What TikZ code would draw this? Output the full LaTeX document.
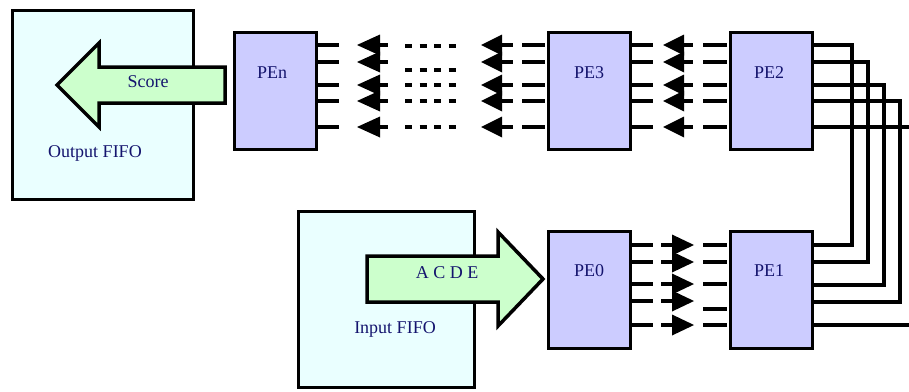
\documentclass[tikz,border=0pt]{standalone}
\usepackage{fontspec}
\setmainfont{Liberation Serif}
\definecolor{fifofill}{RGB}{234,255,255}
\definecolor{pefill}{RGB}{204,204,255}
\definecolor{arrowfill}{RGB}{204,255,204}
\definecolor{navy}{RGB}{20,20,110}
\begin{document}
\begin{tikzpicture}[x=1pt,y=-1pt,
 fifo/.style={draw, line width=3pt, fill=fifofill, anchor=north west, inner sep=0pt},
 pebox/.style={draw, line width=3pt, fill=pefill, anchor=north west, inner sep=0pt, minimum width=82pt, minimum height=117pt},
 lbl/.style={text=navy, font=\fontsize{18}{21}\selectfont, inner sep=0pt},
 wire/.style={line width=4.5pt},
 dotrow/.style={line width=4.5pt, dash pattern=on 7pt off 7.5pt},
 bigarrow/.style={draw, line width=3.5pt, fill=arrowfill, line join=miter},
 head/.style={fill=black}]
\useasboundingbox (0,0) rectangle (909,391);
% FIFO boxes
\node[fifo, minimum width=181pt, minimum height=189pt] (ofifo) at (10.5,8.5) {};
\node[fifo, minimum width=176pt, minimum height=176pt] (ififo) at (296.5,209.5) {};
% top wires
\foreach \y in {45,62,85,101,127}{
  \draw[wire] (315,\y) -- (339,\y);
  \fill[head] (380,\y-10.5) -- (380,\y+10.5) -- (357,\y) -- cycle;
  \draw[wire] (380,\y) -- (388,\y);
  \fill[head] (502,\y-10.5) -- (502,\y+10.5) -- (481,\y) -- cycle;
  \draw[wire] (502,\y) -- (513,\y);
  \draw[wire] (522,\y) -- (545,\y);
  \draw[wire] (629,\y) -- (653,\y);
  \fill[head] (684,\y-10.5) -- (684,\y+10.5) -- (663,\y) -- cycle;
  \draw[wire] (684,\y) -- (693,\y);
  \draw[wire] (703,\y) -- (727,\y);
}
\foreach \y in {46,70,85,101,127}{
  \draw[dotrow] (405,\y) -- (458,\y);
}
% bottom wires
\foreach \y/\z in {245/245,262/262,284/284,301/309,325/325}{
  \draw[wire] (628,\y) -- (653,\y);
  \draw[wire] (661,\y) -- (672,\y);
  \fill[head] (672,\y-10.5) -- (672,\y+10.5) -- (694,\y) -- cycle;
  \draw[wire] (703,\z) -- (727,\z);
}
% routing from PE2 to PE1
\draw[wire] (810,45) -- (852,45) -- (852,245) -- (809,245);
\draw[wire] (810,62) -- (868,62) -- (868,262) -- (809,262);
\draw[wire] (810,85) -- (884,85) -- (884,285) -- (809,285);
\draw[wire] (810,101) -- (900,101) -- (900,302) -- (809,302);
\draw[wire] (810,127) -- (909,127);
\draw[wire] (809,325) -- (909,325);
% PE boxes
\node[pebox] (PEn) at (232.5,30.5) {};
\node[pebox] (PE3) at (546.5,30.5) {};
\node[pebox] (PE2) at (728.5,30.5) {};
\node[pebox] (PE0) at (546.5,229.5) {};
\node[pebox] (PE1) at (728.5,229.5) {};
\node[lbl] (tPEn) at (272,73) {PEn};
\node[lbl] (tPE3) at (589,73) {PE3};
\node[lbl] (tPE2) at (769,73) {PE2};
\node[lbl] (tPE0) at (589,271) {PE0};
\node[lbl] (tPE1) at (769,271) {PE1};
% big arrows
\draw[bigarrow] (225,67) -- (99,67) -- (99,43) -- (57,85) -- (99,127) -- (99,103) -- (225,103) -- cycle;
\draw[bigarrow] (367,256) -- (498,256) -- (498,232) -- (543,279) -- (498,326) -- (498,302) -- (367,302) -- cycle;
\node[lbl] (tscore) at (148,82) {Score};
\node[lbl] (tacde) at (447,273) {A C D E};
\node[lbl] (tofifo) at (95,153) {Output FIFO};
\node[lbl] (tififo) at (395,329) {Input FIFO};
\end{tikzpicture}
\end{document}
